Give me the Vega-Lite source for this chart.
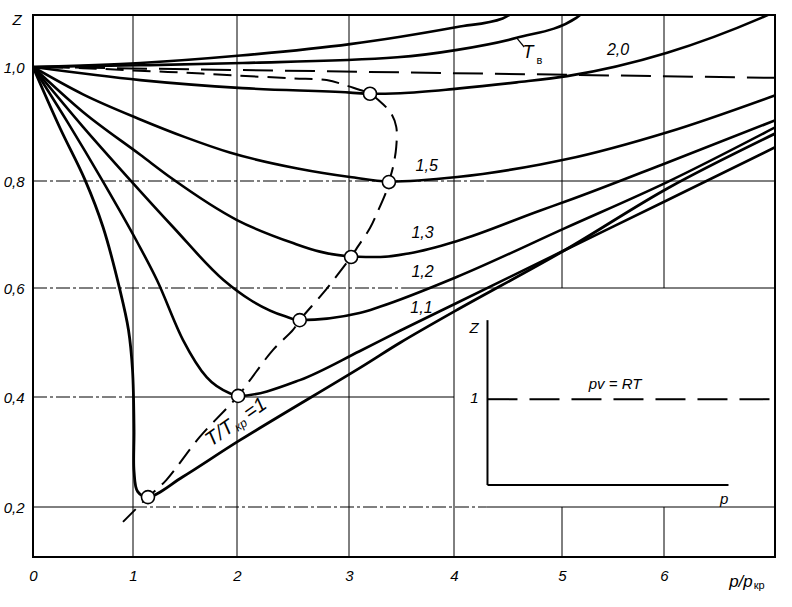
{
  "$schema": "https://vega.github.io/schema/vega-lite/v6.json",
  "width": 742,
  "height": 542,
  "autosize": {"type": "none"},
  "padding": {"left": 33, "top": 15, "right": 17, "bottom": 50},
  "background": "white",
  "config": {
    "view": {"stroke": "black", "strokeWidth": 2},
    "text": {"font": "Liberation Sans", "fontStyle": "italic", "color": "black"}
  },
  "datasets": {
    "curves": [
      {"c":"A","i":0,"x":0,"z":1.0},{"c":"A","i":1,"x":1.07,"z":1.007},{"c":"A","i":2,"x":2.03,"z":1.02},{"c":"A","i":3,"x":3.01,"z":1.04},{"c":"A","i":4,"x":3.49,"z":1.053},{"c":"A","i":5,"x":4.03,"z":1.07},{"c":"A","i":6,"x":4.45,"z":1.085},{"c":"A","i":7,"x":4.65,"z":1.11},
      {"c":"B","i":0,"x":0,"z":1.0},{"c":"B","i":1,"x":1.07,"z":1.003},{"c":"B","i":2,"x":2.05,"z":1.007},{"c":"B","i":3,"x":3.46,"z":1.017},{"c":"B","i":4,"x":4.03,"z":1.03},{"c":"B","i":5,"x":4.58,"z":1.051},{"c":"B","i":6,"x":5.14,"z":1.086},{"c":"B","i":7,"x":5.3,"z":1.11},
      {"c":"C","i":0,"x":0,"z":1.0},{"c":"C","i":1,"x":1.07,"z":0.977},{"c":"C","i":2,"x":2.05,"z":0.963},{"c":"C","i":3,"x":3.01,"z":0.955},{"c":"C","i":4,"x":3.2,"z":0.953},{"c":"C","i":5,"x":3.49,"z":0.954},{"c":"C","i":6,"x":4.03,"z":0.962},{"c":"C","i":7,"x":4.58,"z":0.973},{"c":"C","i":8,"x":5.05,"z":0.984},{"c":"C","i":9,"x":6.03,"z":1.025},{"c":"C","i":10,"x":6.92,"z":1.086},{"c":"C","i":11,"x":7.15,"z":1.105},
      {"c":"D","i":0,"x":0,"z":1.0},{"c":"D","i":1,"x":0.5,"z":0.952},{"c":"D","i":2,"x":1.07,"z":0.908},{"c":"D","i":3,"x":1.5,"z":0.877},{"c":"D","i":4,"x":1.93,"z":0.85},{"c":"D","i":5,"x":2.54,"z":0.822},{"c":"D","i":6,"x":3.01,"z":0.807},{"c":"D","i":7,"x":3.38,"z":0.799},{"c":"D","i":8,"x":4.03,"z":0.807},{"c":"D","i":9,"x":4.8,"z":0.829},{"c":"D","i":10,"x":5.04,"z":0.838},{"c":"D","i":11,"x":6.04,"z":0.886},{"c":"D","i":12,"x":7.06,"z":0.951},
      {"c":"E","i":0,"x":0,"z":1.0},{"c":"E","i":1,"x":0.5,"z":0.921},{"c":"E","i":2,"x":1.07,"z":0.846},{"c":"E","i":3,"x":1.385,"z":0.803},{"c":"E","i":4,"x":2.0,"z":0.727},{"c":"E","i":5,"x":2.5,"z":0.684},{"c":"E","i":6,"x":2.74,"z":0.668},{"c":"E","i":7,"x":3.02,"z":0.659},{"c":"E","i":8,"x":3.3,"z":0.658},{"c":"E","i":9,"x":3.58,"z":0.665},{"c":"E","i":10,"x":4.03,"z":0.688},{"c":"E","i":11,"x":4.8,"z":0.745},{"c":"E","i":12,"x":5.04,"z":0.762},{"c":"E","i":13,"x":6.04,"z":0.833},{"c":"E","i":14,"x":7.06,"z":0.907},
      {"c":"F","i":0,"x":0,"z":1.0},{"c":"F","i":1,"x":0.5,"z":0.895},{"c":"F","i":2,"x":0.97,"z":0.802},{"c":"F","i":3,"x":1.385,"z":0.714},{"c":"F","i":4,"x":1.87,"z":0.615},{"c":"F","i":5,"x":2.12,"z":0.578},{"c":"F","i":6,"x":2.43,"z":0.548},{"c":"F","i":7,"x":2.56,"z":0.541},{"c":"F","i":8,"x":3.1,"z":0.554},{"c":"F","i":9,"x":3.3,"z":0.566},{"c":"F","i":10,"x":4.03,"z":0.621},{"c":"F","i":11,"x":5.03,"z":0.712},{"c":"F","i":12,"x":6.03,"z":0.798},{"c":"F","i":13,"x":7.06,"z":0.895},
      {"c":"G","i":0,"x":0,"z":1.0},{"c":"G","i":1,"x":0.35,"z":0.902},{"c":"G","i":2,"x":0.69,"z":0.802},{"c":"G","i":3,"x":1.04,"z":0.686},{"c":"G","i":4,"x":1.23,"z":0.615},{"c":"G","i":5,"x":1.48,"z":0.505},{"c":"G","i":6,"x":1.71,"z":0.436},{"c":"G","i":7,"x":1.93,"z":0.407},{"c":"G","i":8,"x":2.01,"z":0.402},{"c":"G","i":9,"x":2.56,"z":0.431},{"c":"G","i":10,"x":3.1,"z":0.484},{"c":"G","i":11,"x":3.49,"z":0.522},{"c":"G","i":12,"x":4.03,"z":0.573},{"c":"G","i":13,"x":5.03,"z":0.671},{"c":"G","i":14,"x":6.03,"z":0.764},{"c":"G","i":15,"x":7.06,"z":0.86},
      {"c":"H","i":0,"x":0,"z":1.0},{"c":"H","i":1,"x":0.27,"z":0.893},{"c":"H","i":2,"x":0.52,"z":0.802},{"c":"H","i":3,"x":0.7,"z":0.714},{"c":"H","i":4,"x":0.87,"z":0.596},{"c":"H","i":5,"x":0.955,"z":0.523},{"c":"H","i":6,"x":0.995,"z":0.45},{"c":"H","i":7,"x":1.01,"z":0.34},{"c":"H","i":8,"x":1.01,"z":0.265},{"c":"H","i":9,"x":1.045,"z":0.228},{"c":"H","i":10,"x":1.144,"z":0.218},{"c":"H","i":11,"x":1.48,"z":0.255},{"c":"H","i":12,"x":2.03,"z":0.322},{"c":"H","i":13,"x":3.1,"z":0.453},{"c":"H","i":14,"x":3.49,"z":0.5},{"c":"H","i":15,"x":4.03,"z":0.56},{"c":"H","i":16,"x":5.03,"z":0.671},{"c":"H","i":17,"x":6.04,"z":0.787},{"c":"H","i":18,"x":7.06,"z":0.884}
    ],
    "locus": [
      {"i":0,"x":0.9,"z":0.173},{"i":1,"x":1.144,"z":0.218},{"i":2,"x":1.32,"z":0.249},{"i":3,"x":1.64,"z":0.327},{"i":4,"x":2.01,"z":0.402},{"i":5,"x":2.116,"z":0.431},{"i":6,"x":2.32,"z":0.486},{"i":7,"x":2.5,"z":0.523},{"i":8,"x":2.56,"z":0.541},{"i":9,"x":2.77,"z":0.591},{"i":10,"x":2.95,"z":0.639},{"i":11,"x":3.02,"z":0.658},{"i":12,"x":3.076,"z":0.675},{"i":13,"x":3.2,"z":0.712},{"i":14,"x":3.267,"z":0.74},{"i":15,"x":3.36,"z":0.783},{"i":16,"x":3.38,"z":0.798},{"i":17,"x":3.42,"z":0.825},{"i":18,"x":3.45,"z":0.86},{"i":19,"x":3.45,"z":0.895},{"i":20,"x":3.4,"z":0.919},{"i":21,"x":3.28,"z":0.942},{"i":22,"x":3.2,"z":0.953},{"i":23,"x":3.0,"z":0.966},{"i":24,"x":2.8,"z":0.977},{"i":25,"x":2.5,"z":0.98},{"i":26,"x":2.0,"z":0.985},{"i":27,"x":1.5,"z":0.99},{"i":28,"x":1.0,"z":0.994},{"i":29,"x":0.5,"z":0.998},{"i":30,"x":0,"z":1.0}
    ],
    "markers": [
      {"x":1.144,"z":0.218},{"x":2.01,"z":0.402},{"x":2.56,"z":0.541},{"x":3.02,"z":0.658},{"x":3.38,"z":0.798},{"x":3.2,"z":0.953}
    ],
    "gridSolid": [
      {"x":1,"x2":1,"z":0.109,"z2":1.091},{"x":2,"x2":2,"z":0.109,"z2":1.091},{"x":3,"x2":3,"z":0.109,"z2":1.091},{"x":4,"x2":4,"z":0.109,"z2":1.091},
      {"x":5,"x2":5,"z":0.109,"z2":0.2},{"x":5,"x2":5,"z":0.6,"z2":1.091},{"x":6,"x2":6,"z":0.109,"z2":0.2},{"x":6,"x2":6,"z":0.6,"z2":1.091},
      {"x":4.3,"x2":7.05,"z":0.8,"z2":0.8},{"x":3.5,"x2":7.05,"z":0.6,"z2":0.6},{"x":1.0,"x2":4.0,"z":0.4,"z2":0.4},{"x":0,"x2":1.0,"z":0.2,"z2":0.2},{"x":4.3,"x2":7.05,"z":0.2,"z2":0.2}
    ],
    "gridDash": [
      {"x":0,"x2":4.3,"z":0.8,"z2":0.8},{"x":0,"x2":3.5,"z":0.6,"z2":0.6},{"x":0,"x2":1.0,"z":0.4,"z2":0.4},{"x":1.0,"x2":4.3,"z":0.2,"z2":0.2}
    ],
    "idealDash": [
      {"x":0,"x2":7.05,"z":1.0,"z2":0.981},{"x":4.31,"x2":7.02,"z":0.396,"z2":0.396}
    ],
    "insetAxes": [
      {"x":4.31,"x2":4.31,"z":0.541,"z2":0.24},{"x":4.31,"x2":6.61,"z":0.24,"z2":0.24}
    ],
    "leader": [
      {"x":4.58,"x2":4.65,"z":1.051,"z2":1.035}
    ],
    "curveLabels": [
      {"t":"2,0","x":5.55,"z":1.03},{"t":"1,5","x":3.74,"z":0.826},{"t":"1,3","x":3.7,"z":0.703},{"t":"1,2","x":3.7,"z":0.63},{"t":"1,1","x":3.69,"z":0.563}
    ],
    "tbMain": [{"t":"T","x":4.685,"z":1.025}],
    "tbSub": [{"t":"в","x":4.79,"z":1.011}],
    "critAnchor": [{"x":1.75,"z":0.309}],
    "insetLabels": [
      {"t":"Z","x":4.185,"z":0.527},{"t":"1","x":4.19,"z":0.398},{"t":"pv = RT","x":5.52,"z":0.424},{"t":"p","x":6.57,"z":0.215}
    ],
    "zLabel": [{"t":"Z","x":-0.16,"z":1.082}],
    "pTitle": [{"x":6.84,"z":0.063}]
  },
  "encoding": {
    "x": {
      "field": "x", "type": "quantitative",
      "scale": {"domain": [0, 1, 2, 3, 4, 5, 6, 7.05], "range": [0, 100, 204, 316, 421, 529, 631, 742], "nice": false, "zero": false},
      "axis": {"values": [0,1,2,3,4,5,6], "grid": false, "ticks": false, "domain": false, "title": null,
        "labelFont": "Liberation Sans", "labelFontStyle": "italic", "labelFontSize": 15, "labelColor": "black",
        "labelPadding": 11, "labelFlush": false, "labelOverlap": false}
    },
    "y": {
      "field": "z", "type": "quantitative",
      "scale": {"domain": [0.109, 0.2, 0.4, 0.6, 0.8, 1.0, 1.091], "range": [542, 492, 382, 273, 166, 52, 0], "nice": false, "zero": false},
      "axis": {"values": [0.2,0.4,0.6,0.8,1.0], "grid": false, "ticks": false, "domain": false, "title": null,
        "labelFont": "Liberation Sans", "labelFontStyle": "italic", "labelFontSize": 15, "labelColor": "black",
        "labelPadding": 9, "labelFlush": false, "labelOverlap": false,
        "labelExpr": "replace(format(datum.value, '.1f'), '.', ',')"}
    }
  },
  "layer": [
    {"data": {"name": "gridSolid"}, "mark": {"type": "rule", "color": "black", "strokeWidth": 1},
     "encoding": {"x2": {"field": "x2"}, "y2": {"field": "z2"}}},
    {"data": {"name": "gridDash"}, "mark": {"type": "rule", "color": "black", "strokeWidth": 1, "strokeDash": [14, 3, 3, 3]},
     "encoding": {"x2": {"field": "x2"}, "y2": {"field": "z2"}}},
    {"data": {"name": "idealDash"}, "mark": {"type": "rule", "color": "black", "strokeWidth": 2, "strokeDash": [30, 12]},
     "encoding": {"x2": {"field": "x2"}, "y2": {"field": "z2"}}},
    {"data": {"name": "insetAxes"}, "mark": {"type": "rule", "color": "black", "strokeWidth": 2},
     "encoding": {"x2": {"field": "x2"}, "y2": {"field": "z2"}}},
    {"data": {"name": "leader"}, "mark": {"type": "rule", "color": "black", "strokeWidth": 1.2},
     "encoding": {"x2": {"field": "x2"}, "y2": {"field": "z2"}}},
    {"data": {"name": "curves"},
     "transform": [{"filter": "datum.c != 'H'"}],
     "mark": {"type": "line", "interpolate": "monotone", "color": "black", "strokeWidth": 2.6, "clip": true, "strokeCap": "round", "strokeJoin": "round"},
     "encoding": {"detail": {"field": "c"}, "order": {"field": "i", "type": "quantitative"}}},
    {"data": {"name": "curves"},
     "transform": [{"filter": "datum.c == 'H'"}],
     "mark": {"type": "line", "interpolate": "catmull-rom", "color": "black", "strokeWidth": 2.8, "clip": true, "strokeCap": "round", "strokeJoin": "round"},
     "encoding": {"order": {"field": "i", "type": "quantitative"}}},
    {"data": {"name": "locus"},
     "mark": {"type": "line", "interpolate": "catmull-rom", "color": "black", "strokeWidth": 2, "strokeDash": [18, 9], "clip": true},
     "encoding": {"order": {"field": "i", "type": "quantitative"}}},
    {"data": {"name": "markers"},
     "mark": {"type": "point", "shape": "circle", "filled": true, "fill": "white", "stroke": "black", "strokeWidth": 1.6, "size": 170, "opacity": 1}},
    {"data": {"name": "curveLabels"},
     "mark": {"type": "text", "fontSize": 16, "align": "center", "baseline": "middle"},
     "encoding": {"text": {"field": "t"}}},
    {"data": {"name": "tbMain"},
     "mark": {"type": "text", "fontSize": 18, "align": "center", "baseline": "middle"},
     "encoding": {"text": {"field": "t"}}},
    {"data": {"name": "tbSub"},
     "mark": {"type": "text", "fontSize": 11, "align": "center", "baseline": "middle", "fontStyle": "normal"},
     "encoding": {"text": {"field": "t"}}},
    {"data": {"name": "critAnchor"},
     "mark": {"type": "text", "fontSize": 20, "align": "left", "baseline": "alphabetic", "angle": -35, "text": "T/T"}},
    {"data": {"name": "critAnchor"},
     "mark": {"type": "text", "fontSize": 12, "align": "left", "baseline": "alphabetic", "angle": -35, "dx": 31, "dy": 3, "text": "кр"}},
    {"data": {"name": "critAnchor"},
     "mark": {"type": "text", "fontSize": 20, "align": "left", "baseline": "alphabetic", "angle": -35, "dx": 47, "text": "=1"}},
    {"data": {"name": "insetLabels"},
     "mark": {"type": "text", "fontSize": 15, "align": "center", "baseline": "middle"},
     "encoding": {"text": {"field": "t"}}},
    {"data": {"name": "zLabel"},
     "mark": {"type": "text", "fontSize": 15, "align": "center", "baseline": "middle"},
     "encoding": {"text": {"field": "t"}}},
    {"data": {"name": "pTitle"},
     "mark": {"type": "text", "fontSize": 17, "align": "right", "baseline": "middle", "text": "p/p"}},
    {"data": {"name": "pTitle"},
     "mark": {"type": "text", "fontSize": 11, "align": "left", "baseline": "middle", "dx": 1, "dy": 4, "text": "кр", "fontStyle": "normal"}}
  ]
}
